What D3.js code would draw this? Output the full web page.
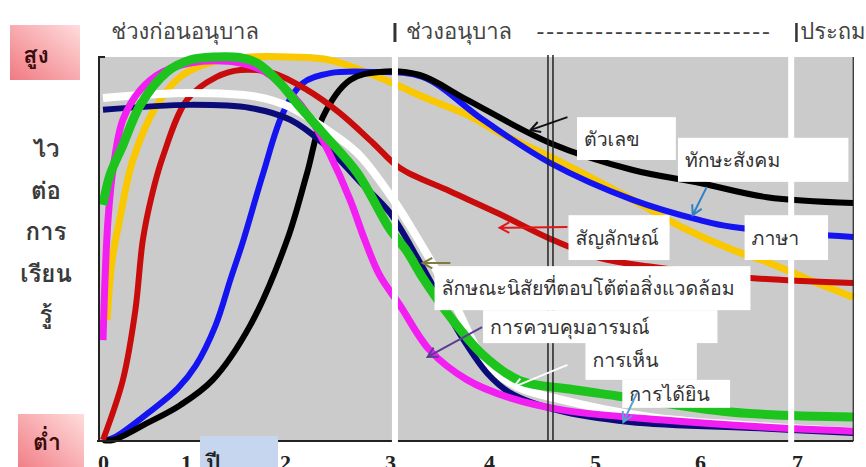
<!DOCTYPE html>
<html>
<head>
<meta charset="utf-8">
<script src="https://cdn.jsdelivr.net/npm/d3@7"></script>
<style>
  body { margin: 0; background: #fff; }
  svg text { font-family: Tahoma, "Loma", "Garuda", "Noto Sans Thai Looped", "Noto Sans Thai", "Noto Sans", "DejaVu Sans", sans-serif; }
</style>
</head>
<body>
<script>
// age in years on x, readiness to learn (0 low .. 100 high) on y
var ageYears = [0, 1, 2, 3, 4, 5, 6, 7];
var stageLabels = ["ช่วงก่อนอนุบาล", "ช่วงอนุบาล", "ประถม"];
var stageBreaks = [3.05, 6.94];
var midBreak = 4.58;
var yTitle = ["ไว", "ต่อ", "การ", "เรียน", "รู้"];

var numbers = [[0,0],[0.12,0],[0.53,4.4],[0.93,9.1],[1.27,15.7],[1.65,30.0],[2.02,52.2],[2.21,69.7],[2.36,84.3],[2.62,94.0],[2.9,96.1],[3.3,95.3],[3.78,88.8],[4.58,77.5],[5.36,70.5],[6.0,67.1],[6.69,63.4],[7.58,61.9]];
var social = [[0.05,0],[0.15,0.8],[0.57,7.5],[0.9,13.5],[1.1,19.5],[1.3,30.0],[1.45,42.0],[1.58,52.2],[1.78,69.7],[1.98,85.4],[2.17,93.2],[2.43,95.8],[2.84,96.1],[3.33,94.8],[3.94,83.6],[4.58,72.3],[5.36,62.7],[6.0,57.4],[6.34,55.6],[7.58,53.0]];
var symbols = [[0,0],[0.24,15.7],[0.39,33.9],[0.48,52.2],[0.59,64.0],[0.72,73.9],[1.01,88.8],[1.31,94.8],[1.55,96.6],[1.88,95.8],[2.21,91.4],[2.52,85.4],[2.84,77.5],[3.1,71.0],[3.6,65.0],[4.1,59.0],[4.58,52.5],[5.05,47.5],[5.52,45.3],[6.52,42.3],[7.58,41.0]];
var language = [[0.05,31.3],[0.11,47.0],[0.2,57.4],[0.36,73.1],[0.65,87.5],[0.96,95.3],[1.31,99.0],[1.65,100],[2.05,100],[2.43,99.2],[3.0,93.5],[3.33,89.6],[3.78,84.9],[4.1,80.2],[4.58,73.9],[5.36,62.7],[5.84,55.4],[6.34,49.6],[6.69,46.5],[7.13,41.8],[7.58,37.3]];
var temperament = [[0,61.4],[0.084,69.2],[0.24,77.0],[0.45,87.5],[0.77,96.1],[1.04,99.2],[1.29,100],[1.55,99.8],[1.72,98.4],[1.95,93.2],[2.11,88.0],[2.36,80.2],[2.69,69.7],[3.0,55.0],[3.17,49.3],[3.33,42.4],[3.61,32.1],[3.94,22.2],[4.29,15.5],[4.76,13.3],[5.21,11.5],[6.31,7.3],[7.58,6.0]];
var emotion = [[0,26.1],[0.024,41.8],[0.06,57.4],[0.12,70.5],[0.24,83.6],[0.45,91.4],[0.72,96.1],[1.04,98.4],[1.29,99.0],[1.55,98.4],[1.8,96.1],[2.05,90.6],[2.24,84.1],[2.43,74.4],[2.62,62.7],[2.76,52.2],[2.9,43.1],[3.1,35.2],[3.4,23.5],[3.78,15.7],[4.2,11.0],[4.7,7.8],[5.65,5.2],[6.65,3.4],[7.58,2.3]];
var seeing = [[0,89.3],[1.04,90.6],[1.72,89.6],[2.05,86.9],[2.36,81.7],[2.69,74.9],[3.0,64.0],[3.2,56.0],[3.61,37.8],[3.98,19.8],[4.26,14.0],[4.67,10.6],[5.52,6.0],[6.62,3.6],[7.58,2.2]];
var hearing = [[0,86.2],[1.04,87.5],[1.65,86.7],[2.05,83.6],[2.36,77.5],[2.71,67.5],[3.0,59.3],[3.3,46.5],[3.71,27.5],[3.98,17.5],[4.2,12.3],[4.64,7.8],[5.33,4.7],[6.65,3.0],[7.58,1.8]];

var width = 866, height = 467;

var svg = d3.select("body").append("svg")
  .attr("width", width)
  .attr("height", height);

// the year ticks in the picture are not evenly spaced, so piecewise scale
var x = d3.scaleLinear()
  .domain(ageYears)
  .range([103, 186, 285, 390, 489, 595, 700, 797]);
var y = d3.scaleLinear().domain([0, 100]).range([440, 57]);

var plotLeft = 99, plotRight = x(7.58), plotTop = y(100), plotBottom = y(0);

var defs = svg.append("defs");
var grad = defs.append("linearGradient").attr("id", "pink")
  .attr("x1", 0).attr("y1", 1).attr("x2", 1).attr("y2", 0);
grad.append("stop").attr("offset", 0).attr("stop-color", "#f07a82");
grad.append("stop").attr("offset", 1).attr("stop-color", "#ffdcdc");

// plot background
svg.append("rect")
  .attr("x", plotLeft).attr("y", plotTop)
  .attr("width", plotRight - plotLeft).attr("height", plotBottom - plotTop)
  .attr("fill", "#cbcbcb");

var line = d3.line()
  .x(function(d) { return x(d[0]); })
  .y(function(d) { return y(d[1]); })
  .curve(d3.curveCatmullRom.alpha(0.5));

var series = [
  {data: language, color: "#f9c800", w: 7},
  {data: social, color: "#1414f0", w: 6},
  {data: numbers, color: "#000000", w: 6},
  {data: symbols, color: "#c80c0c", w: 6},
  {data: seeing, color: "#ffffff", w: 8},
  {data: hearing, color: "#0a0a78", w: 6},
  {data: emotion, color: "#f21ef2", w: 7},
  {data: temperament, color: "#1ec41e", w: 9}
];

svg.append("g").selectAll("path")
  .data(series)
  .enter().append("path")
  .attr("d", function(d) { return line(d.data); })
  .attr("fill", "none")
  .attr("stroke", function(d) { return d.color; })
  .attr("stroke-width", function(d) { return d.w; })
  .attr("stroke-linecap", "butt");

// axes frame
var frame = svg.append("g").attr("stroke", "#222").attr("fill", "none");
frame.append("path").attr("d", "M" + (plotLeft + 6) + "," + plotTop + "H" + plotLeft + "V" + (plotBottom + 1)).attr("stroke-width", 2);
frame.append("path").attr("d", "M" + (plotLeft - 2) + "," + (plotBottom + 1) + "H" + plotRight).attr("stroke-width", 2);
frame.append("path").attr("d", "M" + plotRight + "," + plotTop + "V" + (plotBottom + 1)).attr("stroke-width", 1.2);

// stage dividers
svg.selectAll(".stage")
  .data(stageBreaks)
  .enter().append("rect")
  .attr("x", function(d) { return x(d) - 3; })
  .attr("y", function(d, i) { return i ? 53 : 45; })
  .attr("width", 6)
  .attr("height", function(d, i) { return plotBottom + 6 - (i ? 53 : 45); })
  .attr("fill", "#fff");
[-2.5, 2.5].forEach(function(o) {
  svg.append("line")
    .attr("x1", x(midBreak) + o).attr("x2", x(midBreak) + o)
    .attr("y1", plotTop - 2).attr("y2", plotBottom + 1)
    .attr("stroke", "#222").attr("stroke-width", 1.5);
});

// header
var head = svg.append("g").attr("fill", "#444").style("font-size", "22px");
head.append("text").attr("x", x(0.1)).attr("y", 39).text(stageLabels[0]);
head.append("rect").attr("x", x(stageBreaks[0]) - 1.5).attr("y", 23).attr("width", 3).attr("height", 19).attr("fill", "#333");
head.append("text").attr("x", x(stageBreaks[0]) + 11).attr("y", 39).text(stageLabels[1]);
head.append("text").attr("x", x(4.45)).attr("y", 39)
  .attr("textLength", 233).attr("lengthAdjust", "spacing")
  .text("------------------------");
head.append("rect").attr("x", x(stageBreaks[1]) + 4).attr("y", 23).attr("width", 2.5).attr("height", 19).attr("fill", "#333");
head.append("text").attr("x", x(stageBreaks[1]) + 9).attr("y", 39).text(stageLabels[2]);

// high / low boxes
svg.append("rect").attr("x", 10).attr("y", 25).attr("width", 70).attr("height", 55).attr("fill", "url(#pink)");
svg.append("rect").attr("x", 18).attr("y", 414).attr("width", 66).attr("height", 60).attr("fill", "url(#pink)");
svg.append("text").attr("x", 36).attr("y", 63).attr("text-anchor", "middle").text("สูง")
  .style("font-size", "23px").style("font-weight", "bold").attr("fill", "#3a0c0c");
svg.append("text").attr("x", 47).attr("y", 450).attr("text-anchor", "middle").text("ต่ำ")
  .style("font-size", "23px").style("font-weight", "bold").attr("fill", "#3a0c0c");

svg.append("g").selectAll("text")
  .data(yTitle)
  .enter().append("text")
  .attr("x", 46)
  .attr("y", function(d, i) { return 157 + i * 41.5; })
  .attr("text-anchor", "middle")
  .style("font-size", "24px")
  .style("font-weight", "bold")
  .attr("fill", "#3a3a3a")
  .text(function(d) { return d; });

// year box + axis labels
svg.append("rect").attr("x", 200).attr("y", 436).attr("width", 78).attr("height", 31).attr("fill", "#c6d6ee");

var xAxis = svg.append("g")
  .attr("transform", "translate(0," + (plotBottom + 1) + ")")
  .call(d3.axisBottom(x).tickValues(ageYears).tickFormat(d3.format("d")).tickSize(0).tickPadding(13));
xAxis.select(".domain").remove();
xAxis.selectAll("text")
  .style("font-family", "'Liberation Serif', 'DejaVu Serif', serif")
  .style("font-size", "22px")
  .style("font-weight", "bold")
  .attr("fill", "#222");

svg.append("text").attr("x", 206).attr("y", 471).text("ปี")
  .style("font-size", "23px").style("font-weight", "bold").attr("fill", "#222");

// label boxes: [text, x0, x1, yTop, yBottom]
var notes = [
  ["ตัวเลข", 4.83, 5.77, 84.3, 73.1],
  ["ทักษะสังคม", 5.79, 7.53, 78.9, 67.4],
  ["สัญลักษณ์", 4.75, 5.71, 58.7, 47.0],
  ["ภาษา", 6.46, 7.32, 58.7, 47.0],
  ["ลักษณะนิสัยที่ตอบโต้ต่อสิ่งแวดล้อม", 3.45, 6.52, 45.4, 33.9],
  ["การควบคุมอารมณ์", 3.94, 6.18, 33.9, 25.3],
  ["การเห็น", 4.91, 5.97, 26.1, 15.7],
  ["การได้ยิน", 5.26, 6.31, 15.7, 8.4]
];

var noteG = svg.append("g");
noteG.selectAll("rect")
  .data(notes)
  .enter().append("rect")
  .attr("x", function(d) { return x(d[1]); })
  .attr("y", function(d) { return y(d[3]); })
  .attr("width", function(d) { return x(d[2]) - x(d[1]); })
  .attr("height", function(d) { return y(d[4]) - y(d[3]); })
  .attr("fill", "#fff");
noteG.selectAll("text")
  .data(notes)
  .enter().append("text")
  .attr("x", function(d) { return x(d[1]) + 7; })
  .attr("y", function(d) { return (y(d[3]) + y(d[4])) / 2 + 7; })
  .style("font-size", "19.5px")
  .attr("fill", "#333")
  .text(function(d) { return d[0]; });

// pointer arrows: [x0, y0, x1, y1, colour]
var arrows = [
  [4.74, 84.3, 4.39, 80.9, "#111"],
  [6.07, 66.1, 5.93, 58.7, "#2f80c4"],
  [4.74, 55.6, 4.10, 55.4, "#e01818"],
  [3.61, 46.2, 3.33, 46.2, "#7c7c3c"],
  [3.93, 29.5, 3.38, 21.7, "#5c3c96"],
  [4.74, 19.6, 4.23, 13.8, "#ffffff"],
  [5.40, 12.3, 5.27, 4.7, "#5aa0d2"]
];

var arrowG = svg.append("g").attr("fill", "none").attr("stroke-width", 2);
arrows.forEach(function(a) {
  var x0 = x(a[0]), y0 = y(a[1]), x1 = x(a[2]), y1 = y(a[3]);
  var ang = Math.atan2(y1 - y0, x1 - x0), len = 11, spread = 0.5;
  var p1 = [x1 - len * Math.cos(ang - spread), y1 - len * Math.sin(ang - spread)];
  var p2 = [x1 - len * Math.cos(ang + spread), y1 - len * Math.sin(ang + spread)];
  arrowG.append("path")
    .attr("d", "M" + x0 + "," + y0 + "L" + x1 + "," + y1 +
      "M" + p1 + "L" + x1 + "," + y1 + "L" + p2)
    .attr("stroke", a[4]);
});
</script>
</body>
</html>
